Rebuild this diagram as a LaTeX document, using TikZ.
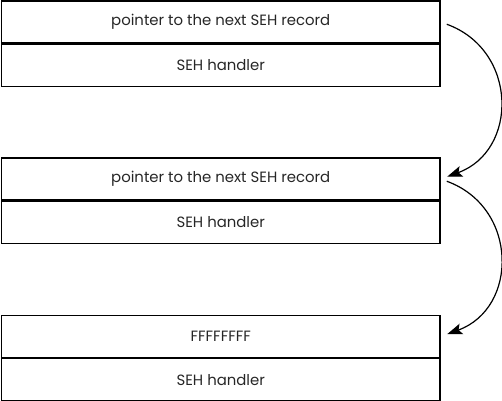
\documentclass[tikz,border=0pt]{standalone}
\usepackage{fontspec}
\setmainfont{Poppins}
\usetikzlibrary{positioning, arrows.meta}
\tikzset{
  row/.style={draw, line width=1.3pt, minimum width=438.5pt, minimum height=42pt,
    inner sep=0pt, font=\fontsize{14.9}{17}\selectfont, text=black!85},
  link/.style={line width=1.2pt, -{Stealth[length=15pt,width=11pt,inset=3pt]},
    shorten <=6.5pt, shorten >=7pt, out=-20, in=20, looseness=1.35}
}

\begin{document}
\begin{tikzpicture}[x=1pt, y=-1pt]
  \useasboundingbox (0,0) rectangle (502,400);
%% first record
  \node[row] (ptrA) at (220.75,22) {pointer to the next SEH record};
  \node[row, below=0pt of ptrA] (hdlA) {SEH handler};
%% second record
  \node[row] (ptrB) at (220.75,179) {pointer to the next SEH record};
  \node[row, below=0pt of ptrB] (hdlB) {SEH handler};
%% last record
  \node[row] (ptrC) at (220.75,336.5) {FFFFFFFF};
  \node[row, below=0pt of ptrC] (hdlC) {SEH handler};
%% chain
  \draw[link] (ptrA.east) to (ptrB.east);
  \draw[link] (ptrB.east) to (ptrC.east);
\end{tikzpicture}
\end{document}
